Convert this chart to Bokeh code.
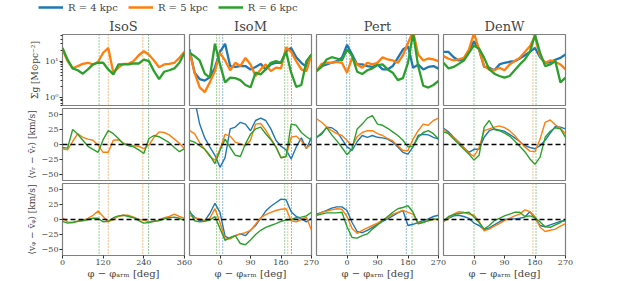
from bokeh.plotting import figure
from bokeh.layouts import row, column
from bokeh.models import Range1d, FixedTicker, Span, Legend, LegendItem
from bokeh.embed import file_html
from bokeh.resources import INLINE

# ---------------- data ----------------
phi_isos = list(range(0, 361, 15))
phi_arm = list(range(-90, 271, 15))

legend_labels = ["R = 4 kpc", "R = 5 kpc", "R = 6 kpc"]
panel_titles = ["IsoS", "IsoM", "Pert", "DenW"]
xticks_isos = [0, 120, 240, 360]
xticks_arm = [0, 90, 180, 270]
yticks_sig = [1, 10]
yticks_v = [-50, -25, 0, 25, 50]

# IsoS (no R=4 kpc curve)
sig_isos_5 = [21, 10, 6.3, 7.3, 8.4, 9.0, 8.1, 9.6, 17, 23, 4.8, 6.6, 8.4, 8.4, 10, 14.5, 18.7, 15, 10.4, 6.8, 8.1, 8.4, 9.0, 12.3, 18]
sig_isos_6 = [23, 11, 6.3, 5.6, 4.5, 5.9, 8.1, 9.0, 9.0, 5.9, 4.3, 8.1, 8.1, 8.1, 8.6, 8.6, 11, 10, 5.3, 3.2, 5.1, 5.6, 6.3, 9.0, 17]
vr_isos_5 = [-7, -9, 5, 18, 12, 9, 7, -1, -13, -13, 7, 8, 2, 0, -2, -3, -7, -1, 12, 21, 20, 16, 9, 2, -7]
vr_isos_6 = [-5, -6, 25, 17, 7, -3, -8, -13, 8, 23, 18, 10, 1, -2, -4, -9, -15, 10, 15, 13, 8, 3, -5, -12, -7]
vp_isos_5 = [3, -4, -5, -3, -1, 2, 7, 14, 5, -4, 0, 5, 7, 7, 4, 0, -1, -4, -3, -1, 3, 5, 9, 5, 2]
vp_isos_6 = [-3, -6, -5, -3, -2, 0, 2, 2, -4, -3, 3, 6, 7, 5, 3, -2, -6, -5, -3, -2, 1, 3, 4, 2, -2]

# IsoM
sig_isom_4 = [21, 4.8, 3.2, 2.9, 3.6, 6.6, 18, 30, 7.3, 6.9, 7.3, 7.3, 5.9, 6.9, 8.4, 5.9, 8.1, 9, 9, 18.7, 23, 12.8, 9, 6.9, 15.2]
sig_isom_5 = [18.7, 4.8, 1.9, 1.4, 2.6, 5.3, 16.9, 10.4, 5.6, 9, 7.3, 12.3, 8.1, 3.9, 5.9, 8.1, 5.3, 6.6, 6.3, 24, 18, 10, 5.9, 5.3, 15.2]
sig_isom_6 = [16.9, 13.7, 10.4, 4.5, 3.5, 30, 8.1, 2.6, 3.5, 3.4, 3.0, 2.2, 1.9, 4.8, 4.3, 5.9, 9, 10, 9, 18, 4.8, 1.95, 2.2, 10, 15.2]
vr_isom_4 = [90, 75, 34, 11, -4, -18, -38, -22, 26, 29, 37, 34, 23, 40, 44, 40, 26, 7, -3, -9, -24, -4, 11, -7, 12]
vr_isom_5 = [23, 18, 3, -8, -20, -26, -8, 17, 14, 4, 1, -2, 7, 34, 35, 24, 10, -4, -22, -20, 12, 14, 6, -6, 1]
vr_isom_6 = [7, 4, -2, -8, -18, -32, -10, 9, -5, -18, -20, 1, 17, 26, 29, 18, 8, -4, -22, -20, 34, 32, 20, 13, 7]
vp_isom_4 = [12, 4, -2, -2, 10, 27, 12, -28, -32, -27, -24, -27, -18, -10, 2, 14, 22, 28, 34, 33, 13, 5, 1, -4, 2]
vp_isom_5 = [7, 3, 1, -2, 2, 18, -5, -33, -32, -27, -24, -22, -18, -8, 3, 8, 12, 15, 17, 18, -2, -4, 0, 4, -18]
vp_isom_6 = [15, -2, -4, -3, -1, 5, -15, -35, -30, -27, -40, -42, -34, -25, -18, -13, -10, -7, -3, -1, 0, 3, 4, 6, 12]

# Pert
sig_pert_4 = [5.6, 7.3, 8.1, 9, 10, 12.3, 28, 15.2, 8.1, 8.1, 7.3, 6.9, 8.1, 5.9, 5.9, 7.3, 12.3, 20.8, 25.6, 6.6, 8, 5.9, 6.9, 7.3, 6.2]
sig_pert_5 = [5.3, 8.4, 9, 9, 9.6, 9, 4.8, 12.3, 8.1, 6.6, 9, 8.1, 9, 12.8, 11.1, 10.4, 9, 14.5, 31.6, 66, 15.2, 10.4, 11.8, 11.1, 10]
sig_pert_6 = [5.3, 6.9, 11.1, 12.8, 11.8, 10.4, 21, 14, 5.1, 4.4, 5.6, 6.3, 7.8, 8.1, 5.9, 4.8, 3.0, 3.4, 9, 59, 7.3, 2.1, 1.87, 2.2, 2.85]
vr_pert_4 = [12, 17, 29, 28, 22, 9, -4, -10, 5, 15, 12, 15, 12, 11, 9, 4, -4, -13, -16, -4, 15, 17, 16, 12, 9]
vr_pert_5 = [43, 37, 29, 23, 18, 15, 7, -3, 13, 20, 23, 23, 18, 15, 10, 6, -2, -10, -10, 9, 23, 34, 32, 40, 44]
vr_pert_6 = [12, 19, 28, 16, 6, -5, -17, -7, 26, 34, 44, 48, 34, 32, 27, 21, 15, 7, -4, -3, 12, 20, 23, 18, 9]
vp_pert_4 = [9, 12, 15, 19, 21, 21, 15, -5, -20, -22, -18, -13, -8, -3, 1, 6, 11, 15, -10, -8, -5, -2, 1, 5, 7]
vp_pert_5 = [7, 12, 14, 16, 18, 17, 5, -15, -23, -18, -14, -10, -6, -1, 3, 9, 12, 15, 12, 9, -7, -4, -2, 0, 0]
vp_pert_6 = [7, 9, 11, 11, 11, 12, -12, -30, -31, -27, -24, -16, -9, -2, 5, 12, 18, 20, 23, 12, -7, -5, -2, 1, 0]

# DenW
sig_denw_4 = [17.9, 17.9, 12.8, 10.4, 11.1, 18.7, 35, 20.8, 6.9, 6.6, 5.6, 8.1, 9, 9.6, 10, 11.8, 14.5, 17.9, 23, 12.8, 9, 9.4, 10.9, 12.3, 15.2]
sig_denw_5 = [13.7, 11.6, 10.4, 11.1, 12.3, 20.8, 59, 20.8, 7.3, 5.9, 5.6, 6.6, 5.6, 8.1, 10, 12.3, 17.9, 25.6, 48, 13.7, 9, 10.4, 9.6, 8.1, 5.9]
sig_denw_6 = [9, 6.3, 6.9, 8.4, 10.4, 16.9, 27, 22, 12.3, 5.9, 4.5, 3.9, 3.5, 3.9, 5.6, 8.1, 11.1, 17.9, 53, 16.9, 7.3, 8.1, 10, 2.6, 3.5]
vr_denw_4 = [27, 21, 12, 4, -5, -13, -8, -8, 12, 23, 26, 24, 22, 17, 11, 5, -2, -5, -7, -2, 7, 19, 30, 29, 26]
vr_denw_5 = [26, 18, 12, 4, -5, -14, -20, -5, 23, 26, 29, 31, 28, 23, 15, 5, -4, -11, -12, 9, 37, 41, 33, 27, 18]
vr_denw_6 = [21, 18, 9, 1, -8, -16, -26, -18, 29, 40, 25, 23, 19, 14, 6, -3, -12, -24, -33, -21, 12, 22, 28, 26, 12]
vp_denw_4 = [-3, 2, 6, 7, 5, 2, -6, -10, -17, -14, -9, -4, 0, 1, 1, 2, 4, 13, 2, -10, -12, -9, -6, -3, -2]
vp_denw_5 = [-4, 3, 9, 13, 12, 9, 7, -3, -19, -16, -11, -7, -2, 2, 6, 9, 16, 13, 5, -13, -20, -18, -16, -11, -7]
vp_denw_6 = [-2, 5, 8, 10, 11, 12, 4, -5, -16, -10, -2, 2, 6, 9, 12, 12, 5, 6, 3, -4, -12, -13, -9, -5, 0]

# spiral-arm positions (vertical dotted lines)
arm_isos_5 = [135, 237]
arm_isos_6 = [108, 254]
arm_isom_4 = [8, 211]
arm_isom_5 = [-2, 200]
arm_isom_6 = [-10, 191]
arm_pert_4 = [-1, 175]
arm_pert_6 = [8, 192]
arm_denw_5 = [174]
arm_denw_6 = [0, 183]

# ---------------- style ----------------
C4, C5, C6 = "#1f77b4", "#ff7f0e", "#2ca02c"
FONT = "DejaVu Serif"

panels = [
    dict(title="IsoS", phi=phi_isos, xr=(0, 360), xt=xticks_isos,
         sig=[(C5, sig_isos_5), (C6, sig_isos_6)],
         vr=[(C5, vr_isos_5), (C6, vr_isos_6)],
         vp=[(C5, vp_isos_5), (C6, vp_isos_6)],
         arms=[(C5, arm_isos_5), (C6, arm_isos_6)]),
    dict(title="IsoM", phi=phi_arm, xr=(-90, 270), xt=xticks_arm,
         sig=[(C4, sig_isom_4), (C5, sig_isom_5), (C6, sig_isom_6)],
         vr=[(C4, vr_isom_4), (C5, vr_isom_5), (C6, vr_isom_6)],
         vp=[(C4, vp_isom_4), (C5, vp_isom_5), (C6, vp_isom_6)],
         arms=[(C4, arm_isom_4), (C5, arm_isom_5), (C6, arm_isom_6)]),
    dict(title="Pert", phi=phi_arm, xr=(-90, 270), xt=xticks_arm,
         sig=[(C4, sig_pert_4), (C5, sig_pert_5), (C6, sig_pert_6)],
         vr=[(C4, vr_pert_4), (C5, vr_pert_5), (C6, vr_pert_6)],
         vp=[(C4, vp_pert_4), (C5, vp_pert_5), (C6, vp_pert_6)],
         arms=[(C4, arm_pert_4), (C6, arm_pert_6)]),
    dict(title="DenW", phi=phi_arm, xr=(-90, 270), xt=xticks_arm,
         sig=[(C4, sig_denw_4), (C5, sig_denw_5), (C6, sig_denw_6)],
         vr=[(C4, vr_denw_4), (C5, vr_denw_5), (C6, vr_denw_6)],
         vp=[(C4, vp_denw_4), (C5, vp_denw_5), (C6, vp_denw_6)],
         arms=[(C5, arm_denw_5), (C6, arm_denw_6)]),
]

FW = 122
Lb = [54, 5, 5, 5]
Rb = [10, 10, 10, 20]
Tb = [17, 2, 2]
Bb = [1, 1, 26]
FH = 72
ylabels = ["Σg [M⊙pc⁻²]", "⟨vᵣ − v̄ᵣ⟩ [km/s]", "⟨vᵩ − v̄ᵩ⟩ [km/s]"]
xlabel = "φ − φₐᵣₘ [deg]"
MINOR_LOG = [0.6, 0.7, 0.8, 0.9, 2, 3, 4, 5, 6, 7, 8, 9, 20, 30, 40, 50]


def style_axis(ax, label_size):
    ax.major_label_text_font = FONT
    ax.major_label_text_font_size = "8px"
    ax.axis_label_text_font = FONT
    ax.axis_label_text_font_size = label_size
    ax.axis_label_text_font_style = "normal"
    ax.major_tick_out = 3
    ax.major_tick_in = 0
    ax.minor_tick_out = 2
    ax.minor_tick_in = 0
    ax.axis_line_color = None
    ax.major_tick_line_color = "#333333"
    ax.minor_tick_line_color = "#333333"
    ax.major_label_standoff = 1
    ax.axis_label_standoff = 2


def make(ri, ci, spec):
    kw = dict(width=Lb[ci] + FW + Rb[ci], height=Tb[ri] + FH + Bb[ri],
              toolbar_location=None, output_backend="svg",
              x_range=Range1d(*spec["xr"]),
              min_border_left=Lb[ci], min_border_right=Rb[ci],
              min_border_top=Tb[ri], min_border_bottom=Bb[ri],
              border_fill_color=None, background_fill_color="white",
              outline_line_color="#7f7f7f", outline_line_width=1.2)
    if ri == 0:
        kw["y_axis_type"] = "log"
        kw["y_range"] = Range1d(0.6, 54)
    else:
        kw["y_range"] = Range1d(-60, 60)
    p = figure(**kw)
    if ri == 0:
        p.title.text = spec["title"]
        p.title.align = "center"
        p.title.text_font = FONT
        p.title.text_font_size = "13px"
        p.title.text_font_style = "normal"
        p.title.standoff = 1
    p.grid.visible = False
    if ci > 0:
        p.margin = (0, 0, 0, -10)

    # axes
    ya = p.yaxis[0]
    if ci == 0:
        style_axis(ya, "9px")
        ya.axis_label = ylabels[ri]
        if ri == 0:
            ya.ticker = FixedTicker(ticks=yticks_sig, minor_ticks=MINOR_LOG)
            ya.major_label_overrides = {1: "10⁰", 10: "10¹"}
        else:
            ya.ticker = FixedTicker(ticks=yticks_v, minor_ticks=[])
            ya.major_label_overrides = {-50: "−50", -25: "−25"}
    else:
        ya.visible = False
    xa = p.xaxis[0]
    if ri == 2:
        style_axis(xa, "10px")
        xa.ticker = FixedTicker(ticks=spec["xt"], minor_ticks=[])
        xa.axis_label = xlabel
        xa.axis_label_standoff = 0
    else:
        xa.visible = False

    # arm lines
    for col, locs in spec["arms"]:
        for loc in locs:
            p.add_layout(Span(location=loc, dimension="height", line_color=col,
                              line_dash="1 2", line_width=1, level="underlay"))
    if ri > 0:
        p.add_layout(Span(location=0, dimension="width", line_color="black",
                          line_dash="5 3", line_width=1.5))
    key = ["sig", "vr", "vp"][ri]
    lw = 2.3 if ri == 0 else 1.4
    for col, vals in spec[key]:
        p.line(spec["phi"], vals, line_color=col, line_width=lw)
    return p


rows = []
for ri in range(3):
    rows.append(row([make(ri, ci, panels[ci]) for ci in range(4)]))

# legend strip (renderers hold a single NaN so that nothing is drawn in the strip)
leg = figure(width=577, height=16, toolbar_location=None, output_backend="svg",
             x_range=Range1d(0, 1), y_range=Range1d(0, 1), min_border=0,
             border_fill_color=None, outline_line_color=None)
leg.axis.visible = False
leg.grid.visible = False
items = []
for col, lab in zip([C4, C5, C6], legend_labels):
    r = leg.line([float("nan")], [float("nan")], line_color=col, line_width=2.5)
    items.append(LegendItem(label=lab, renderers=[r]))
lg = Legend(items=items, location=(30, 3), orientation="horizontal",
            glyph_width=25, glyph_height=12, label_height=12, label_standoff=5,
            spacing=10, padding=0, margin=0, border_line_color=None,
            background_fill_alpha=0, label_text_font=FONT, label_text_font_size="10px")
leg.add_layout(lg)

layout = column([leg] + rows, margin=(0, 0, 0, 8))
open("out.html", "w").write(file_html(layout, INLINE))
